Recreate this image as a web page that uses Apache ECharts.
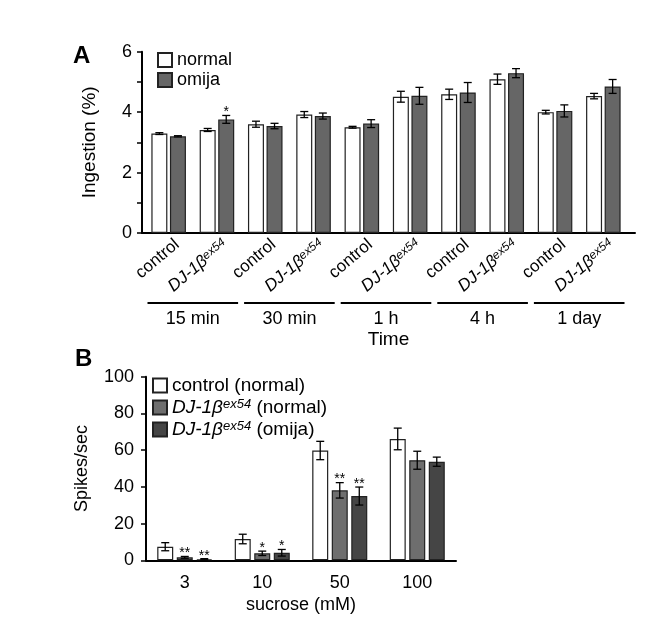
<!DOCTYPE html>
<html>
<head>
<meta charset="utf-8">
<script src="https://cdn.jsdelivr.net/npm/echarts@6/dist/echarts.min.js"></script>
<style>
  html, body { margin: 0; padding: 0; background: #fff; }
  #chart { width: 650px; height: 624px; }
</style>
</head>
<body>
<div id="chart"></div>
<script>
// panel A: ingestion by genotype and time
var catsA = ['control', 'DJ', 'control', 'DJ', 'control', 'DJ', 'control', 'DJ', 'control', 'DJ'];
var timesA = ['15 min', '30 min', '1 h', '4 h', '1 day'];
var normalA = [3.29, 3.41, 3.60, 3.92, 3.50, 4.51, 4.59, 5.09, 4.00, 4.53];
var normalErrA = [0.03, 0.05, 0.10, 0.10, 0.03, 0.18, 0.17, 0.17, 0.06, 0.09];
var omijaA = [3.20, 3.76, 3.54, 3.87, 3.62, 4.54, 4.65, 5.29, 4.04, 4.85];
var omijaErrA = [0.02, 0.13, 0.09, 0.10, 0.13, 0.28, 0.33, 0.15, 0.20, 0.23];
var omijaSigA = ['', '*', '', '', '', '', '', '', '', ''];

// panel B: spikes by sucrose concentration
var catsB = ['3', '10', '50', '100'];
var controlB = [7.4, 11.6, 59.8, 66.1];
var controlErrB = [2.2, 2.6, 5.0, 5.9];
var djNormalB = [1.6, 3.8, 38.1, 54.5];
var djNormalErrB = [0.5, 1.2, 4.2, 4.9];
var djOmijaB = [0.6, 4.1, 35.0, 53.7];
var djOmijaErrB = [0.3, 1.8, 4.9, 2.5];
var djNormalSigB = ['**', '*', '**', ''];
var djOmijaSigB = ['**', '*', '**', ''];

var FONT = 'Arial, "Liberation Sans", sans-serif';
var BAR_W = 16;
var GAP_A = 0.16, GAP_B = 0.22;

var chart = echarts.init(document.getElementById('chart'));

var richGeno = {
    i: { fontFamily: FONT, fontSize: 17, fontStyle: 'italic', color: '#000', fill: '#000' },
    s: { fontFamily: FONT, fontSize: 12, fontStyle: 'italic', color: '#000', fill: '#000', verticalAlign: 'top' },
    n: { fontFamily: FONT, fontSize: 19, color: '#000' },
    bi: { fontFamily: FONT, fontSize: 19, fontStyle: 'italic', color: '#000', lineHeight: 19 },
    bs: { fontFamily: FONT, fontSize: 13, fontStyle: 'italic', color: '#000', verticalAlign: 'top' }
};

function errBars(k, n, gap, sig) {
    return function (params, api) {
        var off = (k - (n - 1) / 2) * BAR_W * (1 + gap);
        var idx = api.value(0), m = api.value(1), e = api.value(2);
        var cx = api.coord([idx, m])[0] + off;
        var yTop = api.coord([idx, m + e])[1];
        var yBot = api.coord([idx, m - e])[1];
        var st = { stroke: '#000', lineWidth: 1.3 };
        var kids = [
            { type: 'line', shape: { x1: cx, y1: yTop, x2: cx, y2: yBot }, style: st },
            { type: 'line', shape: { x1: cx - 4, y1: yTop, x2: cx + 4, y2: yTop }, style: st },
            { type: 'line', shape: { x1: cx - 4, y1: yBot, x2: cx + 4, y2: yBot }, style: st }
        ];
        if (sig && sig[params.dataIndex]) {
            kids.push({ type: 'text', style: { text: sig[params.dataIndex], x: cx, y: yTop + 4, align: 'center',
                verticalAlign: 'bottom', fontSize: 14, fontFamily: FONT, fill: '#000' } });
        }
        return { type: 'group', children: kids };
    };
}

function errData(vals, errs) {
    return vals.map(function (v, i) { return [i, v, errs[i]]; });
}

function errSeries(k, n, gap, vals, errs, sig, xi) {
    return {
        type: 'custom', xAxisIndex: xi, yAxisIndex: xi, z: 5, silent: true,
        renderItem: errBars(k, n, gap, sig), data: errData(vals, errs)
    };
}

var barStyle = function (c) {
    return { color: c, borderColor: '#222', borderWidth: 1.2 };
};

var option = {
    animation: false,
    textStyle: { fontFamily: FONT, color: '#000' },
    title: [
        { text: 'A', left: 68, top: 39, textStyle: { fontFamily: FONT, fontSize: 24, fontWeight: 'bold', color: '#000' } },
        { text: 'B', left: 70, top: 342, textStyle: { fontFamily: FONT, fontSize: 24, fontWeight: 'bold', color: '#000' } }
    ],
    legend: [
        {
            data: ['normal', 'omija'], orient: 'vertical', left: 152, top: 46,
            itemWidth: 14, itemHeight: 14, itemGap: 2, icon: 'rect',
            textStyle: { fontFamily: FONT, fontSize: 18, color: '#000', lineHeight: 18 }
        },
        {
            data: ['control (normal)', 'DJ-1βex54 (normal)', 'DJ-1βex54 (omija)'],
            orient: 'vertical', left: 147, top: 371,
            itemWidth: 14, itemHeight: 14, itemGap: 3, icon: 'rect',
            textStyle: { fontFamily: FONT, fontSize: 19, color: '#000', lineHeight: 19, rich: richGeno },
            formatter: function (name) {
                if (name.indexOf('DJ') === 0) {
                    return '{bi|DJ-1β}{bs|ex54}{n|' + name.slice(9) + '}';
                }
                return name;
            }
        }
    ],
    grid: [
        { left: 144.5, top: 51.7, width: 483, height: 181.3 },
        { left: 142, top: 51.7, width: 493, height: 181.3 },
        { left: 146, top: 376.7, width: 310, height: 183.6 }
    ],
    xAxis: [
        {
            type: 'category', gridIndex: 0, data: catsA,
            axisLine: { show: false }, axisTick: { show: false }, axisLabel: { show: false }
        },
        {
            type: 'value', gridIndex: 1, min: 0, max: 1,
            axisLine: { show: true, onZero: false, lineStyle: { color: '#000', width: 2 } },
            axisTick: { show: false }, axisLabel: { show: false }, splitLine: { show: false },
            name: 'Time', nameLocation: 'middle', nameGap: 97,
            nameTextStyle: { fontFamily: FONT, fontSize: 19, color: '#000' }
        },
        {
            type: 'category', gridIndex: 2, data: catsB,
            axisLine: { lineStyle: { color: '#000', width: 2 } }, axisTick: { show: false },
            axisLabel: { margin: 14, fontFamily: FONT, fontSize: 18, color: '#000' },
            name: 'sucrose (mM)', nameLocation: 'middle', nameGap: 36,
            nameTextStyle: { fontFamily: FONT, fontSize: 18, color: '#000' }
        }
    ],
    yAxis: [
        {
            type: 'value', gridIndex: 0, min: 0, max: 6, interval: 1, offset: 2.5,
            axisLine: { show: true, lineStyle: { color: '#000', width: 2 } },
            axisTick: { show: true, length: 5, lineStyle: { color: '#000', width: 1.5 } },
            splitLine: { show: false },
            axisLabel: {
                margin: 10, fontFamily: FONT, fontSize: 18, color: '#000',
                formatter: function (v) { return v % 2 === 0 ? String(v) : ''; }
            },
            name: 'Ingestion (%)', nameLocation: 'middle', nameGap: 43,
            nameTextStyle: { fontFamily: FONT, fontSize: 19, color: '#000' }
        },
        { type: 'value', gridIndex: 1, show: false, min: 0, max: 1 },
        {
            type: 'value', gridIndex: 2, min: 0, max: 100, interval: 20,
            axisLine: { show: true, lineStyle: { color: '#000', width: 2 } },
            axisTick: { show: true, length: 5, lineStyle: { color: '#000', width: 1.5 } },
            splitLine: { show: false },
            axisLabel: { margin: 12, fontFamily: FONT, fontSize: 18, color: '#000' },
            name: 'Spikes/sec', nameLocation: 'middle', nameGap: 55,
            nameTextStyle: { fontFamily: FONT, fontSize: 18, color: '#000' }
        }
    ],
    series: [
        { name: 'normal', type: 'bar', xAxisIndex: 0, yAxisIndex: 0, barWidth: BAR_W, barGap: (GAP_A * 100) + '%',
          data: normalA, itemStyle: barStyle('#ffffff') },
        { name: 'omija', type: 'bar', xAxisIndex: 0, yAxisIndex: 0, barWidth: BAR_W,
          data: omijaA, itemStyle: barStyle('#666666') },
        errSeries(0, 2, GAP_A, normalA, normalErrA, null, 0),
        errSeries(1, 2, GAP_A, omijaA, omijaErrA, omijaSigA, 0),
        {
            // rotated genotype labels under each category
            type: 'custom', xAxisIndex: 0, yAxisIndex: 0, silent: true,
            data: catsA.map(function (c, i) { return [i, 0]; }),
            renderItem: function (params, api) {
                var p = api.coord([api.value(0), 0]);
                var c = catsA[params.dataIndex];
                return {
                    type: 'text', x: p[0] + 3, y: p[1] + 3, rotation: 40 * Math.PI / 180,
                    style: {
                        text: c === 'DJ' ? '{i|DJ-1β}{s|ex54}' : c, rich: richGeno,
                        align: 'right', verticalAlign: 'top', fontSize: 17, fontFamily: FONT, fill: '#000'
                    }
                };
            }
        },
        {
            // time brackets under pairs of categories
            type: 'custom', xAxisIndex: 0, yAxisIndex: 0, silent: true,
            data: timesA.map(function (t, g) { return [2 * g, 0]; }),
            renderItem: function (params, api) {
                var band = api.size([1, 0])[0];
                var p0 = api.coord([api.value(0), 0]);
                var p1 = api.coord([api.value(0) + 1, 0]);
                var x1 = p0[0] - band / 2 + 3, x2 = p1[0] + band / 2 - 3;
                var y = p0[1] + 70;
                return {
                    type: 'group', children: [
                        { type: 'line', shape: { x1: x1, y1: y, x2: x2, y2: y }, style: { stroke: '#000', lineWidth: 2 } },
                        { type: 'text', style: { text: timesA[params.dataIndex], x: (x1 + x2) / 2, y: y + 16,
                            align: 'center', verticalAlign: 'middle', fontSize: 18, fontFamily: FONT, fill: '#000' } }
                    ]
                };
            }
        },
        { name: 'control (normal)', type: 'bar', xAxisIndex: 2, yAxisIndex: 2, barWidth: BAR_W, barGap: (GAP_B * 100) + '%',
          data: controlB, itemStyle: barStyle('#ffffff') },
        { name: 'DJ-1βex54 (normal)', type: 'bar', xAxisIndex: 2, yAxisIndex: 2, barWidth: BAR_W,
          data: djNormalB, itemStyle: barStyle('#6e6e6e') },
        { name: 'DJ-1βex54 (omija)', type: 'bar', xAxisIndex: 2, yAxisIndex: 2, barWidth: BAR_W,
          data: djOmijaB, itemStyle: barStyle('#454545') },
        errSeries(0, 3, GAP_B, controlB, controlErrB, null, 2),
        errSeries(1, 3, GAP_B, djNormalB, djNormalErrB, djNormalSigB, 2),
        errSeries(2, 3, GAP_B, djOmijaB, djOmijaErrB, djOmijaSigB, 2)
    ]
};

chart.setOption(option);
</script>
</body>
</html>
